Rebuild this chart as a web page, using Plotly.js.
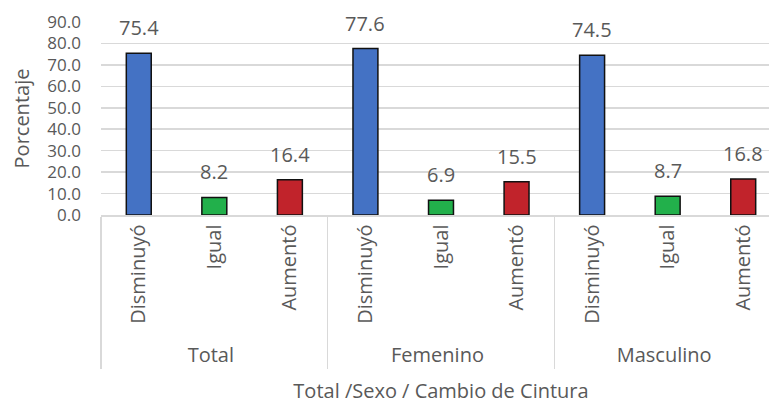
<!DOCTYPE html>
<html>
<head>
<meta charset="utf-8">
<script src="https://cdn.plot.ly/plotly-3.0.1.min.js"></script>
<style>
html,body{margin:0;padding:0;overflow:hidden;background:#fff;}
#chart{width:790px;height:406px;}
</style>
</head>
<body>
<div id="chart"></div>
<script>
const groups = ["Total", "Total", "Total", "Femenino", "Femenino", "Femenino", "Masculino", "Masculino", "Masculino"];
const changes = ["Disminuyó", "Igual", "Aumentó", "Disminuyó", "Igual", "Aumentó", "Disminuyó", "Igual", "Aumentó"];
const values = [75.4, 8.2, 16.4, 77.6, 6.9, 15.5, 74.5, 8.7, 16.8];
const yTicks = [0, 10, 20, 30, 40, 50, 60, 70, 80, 90];
const yTickLabels = ["0.0", "10.0", "20.0", "30.0", "40.0", "50.0", "60.0", "70.0", "80.0", "90.0"];

const colorMap = {"Disminuyó": "#4472C4", "Igual": "#22B04B", "Aumentó": "#C1232B"};
const txtColor = "#595959";
const fontFam = "'Open Sans', 'Liberation Sans', sans-serif";

const trace = {
  type: "bar",
  x: [groups, changes],
  y: values,
  width: 0.33,
  marker: {color: changes.map(c => colorMap[c]), line: {color: "#111111", width: 1.5}},
  hoverinfo: "none"
};

const annotations = values.map((v, i) => ({
  x: i, y: v, xref: "x", yref: "y",
  text: v.toFixed(1), showarrow: false,
  yanchor: "bottom", yshift: 10,
  font: {family: fontFam, size: 20, color: txtColor}
}));

const layout = {
  width: 790, height: 406,
  margin: {l: 101, r: 9, t: 22, b: 191},
  paper_bgcolor: "#ffffff", plot_bgcolor: "#ffffff",
  showlegend: false,
  font: {family: fontFam, size: 20, color: txtColor},
  xaxis: {
    type: "multicategory",
    tickangle: -90,
    tickfont: {family: fontFam, size: 20, color: txtColor},
    showline: true, linecolor: "#d9d9d9", linewidth: 1.5,
    showdividers: true, dividercolor: "#d9d9d9", dividerwidth: 1.5,
    ticks: "outside", ticklen: 6, tickcolor: "rgba(0,0,0,0)",
    showgrid: false,
    title: {text: "Total /Sexo / Cambio de Cintura", font: {family: fontFam, size: 20, color: txtColor}, standoff: 17}
  },
  yaxis: {
    range: [0, 90],
    tickvals: yTicks, ticktext: yTickLabels,
    tickfont: {family: fontFam, size: 17, color: txtColor},
    showgrid: true, gridcolor: "#d9d9d9", gridwidth: 1.5,
    zeroline: false, showline: false, ticks: "",
    ticklabelstandoff: 19,
    title: {text: "Porcentaje", font: {family: fontFam, size: 20, color: txtColor}, standoff: 12}
  },
  annotations: annotations
};

Plotly.newPlot("chart", [trace], layout, {staticPlot: true, displayModeBar: false});
</script>
</body>
</html>
